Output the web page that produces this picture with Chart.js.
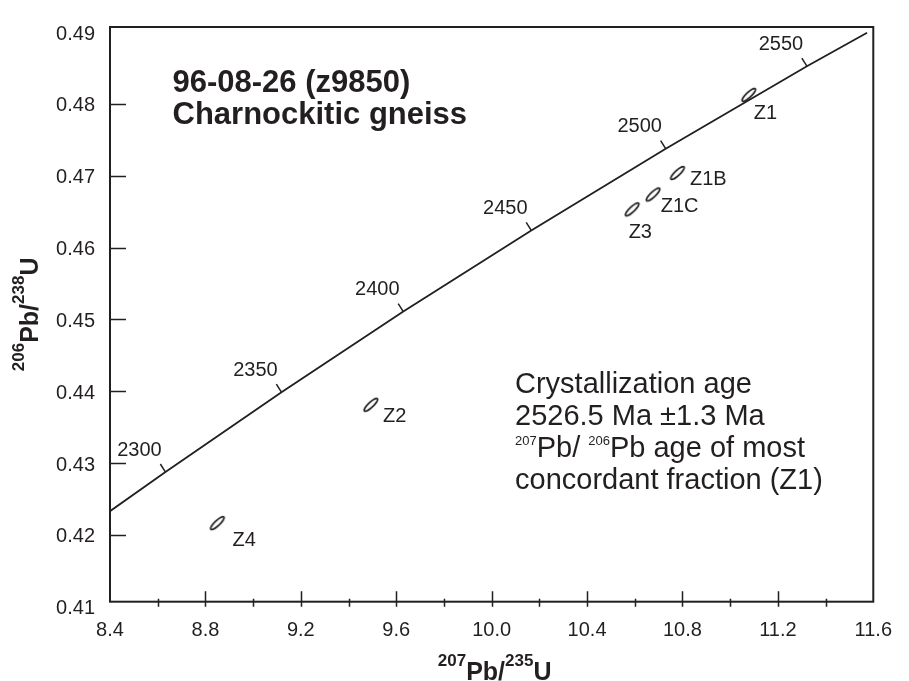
<!DOCTYPE html>
<html>
<head>
<meta charset="utf-8">
<script src="https://cdn.jsdelivr.net/npm/chart.js@4.4.0/dist/chart.umd.min.js"></script>
<style>
html,body{margin:0;padding:0;background:#ffffff;}
#wrap{width:909px;height:681px;position:relative;}
</style>
</head>
<body>
<div id="wrap"><canvas id="c" width="909" height="681"></canvas></div>
<script>
// ---------- data ----------
const xTicks = [8.4, 8.8, 9.2, 9.6, 10.0, 10.4, 10.8, 11.2, 11.6];
const xMinorTicks = [8.6, 9.0, 9.4, 9.8, 10.2, 10.6, 11.0, 11.4];
const yTicks = [0.41, 0.42, 0.43, 0.44, 0.45, 0.46, 0.47, 0.48, 0.49];

// concordia curve (ends at the frame, passes through the age marks)
const concordiaX = [8.400, 8.6325, 9.1188, 9.6296, 10.1661, 10.7297, 11.3217, 11.574];
const concordiaY = [0.4233, 0.42875, 0.43986, 0.45108, 0.46238, 0.47376, 0.48524, 0.4899];

// age marks on the concordia
const ageLabels = ['2300', '2350', '2400', '2450', '2500', '2550'];
const ageX = [8.6325, 9.1188, 9.6296, 10.1661, 10.7297, 11.3217];
const ageY = [0.42875, 0.43986, 0.45108, 0.46238, 0.47376, 0.48524];

// zircon fractions (error-ellipse centres)
const fractionNames = ['Z1', 'Z1B', 'Z1C', 'Z3', 'Z2', 'Z4'];
const fractionX = [11.078, 10.779, 10.677, 10.589, 9.4935, 8.850];
const fractionY = [0.48126, 0.47038, 0.46739, 0.46532, 0.43811, 0.42164];

const titleLines = ['96-08-26 (z9850)', 'Charnockitic gneiss'];

// ---------- layout / style (kept apart from the data) ----------
const FONT = "'Liberation Sans', Arial, Helvetica, sans-serif";
const INK = '#231f20';
const fractionLabelOffsets = [[5, 18.5], [12.5, 6.5], [7.6, 12], [-3.5, 22.7], [12.2, 12], [15.2, 17.8]];

// ellipse point style
function makeEllipse() {
  const cv = document.createElement('canvas');
  cv.width = 28; cv.height = 28;
  const g = cv.getContext('2d');
  g.translate(14, 14);
  g.rotate(-43 * Math.PI / 180);
  g.beginPath();
  g.ellipse(0, 0, 9, 2.5, 0, 0, Math.PI * 2);
  g.fillStyle = '#ffffff';
  g.fill();
  g.lineWidth = 1.7;
  g.strokeStyle = INK;
  g.stroke();
  return cv;
}

function richWidth(ctx, parts) {
  let w = 0;
  for (const p of parts) { ctx.font = p.font; w += ctx.measureText(p.t).width; }
  return w;
}
function drawRich(ctx, x, y, parts) {
  let cx = x;
  for (const p of parts) {
    ctx.font = p.font;
    ctx.fillText(p.t, cx, y - (p.rise || 0));
    cx += ctx.measureText(p.t).width;
  }
}

const decor = {
  id: 'decor',
  afterDraw(chart) {
    const ctx = chart.ctx;
    const a = chart.chartArea;
    const xs = chart.scales.x, ys = chart.scales.y;
    ctx.save();
    ctx.strokeStyle = INK;
    ctx.fillStyle = INK;
    ctx.lineCap = 'butt';

    // frame
    ctx.lineWidth = 2;
    ctx.strokeRect(a.left, a.top, a.right - a.left, a.bottom - a.top);

    // x tick marks
    ctx.lineWidth = 1.5;
    ctx.beginPath();
    xTicks.forEach(v => {
      const px = Math.round(xs.getPixelForValue(v)) + 0.5;
      if (px < a.left + 3 || px > a.right - 3) return;
      ctx.moveTo(px, a.bottom - 10.5); ctx.lineTo(px, a.bottom + 5);
    });
    xMinorTicks.forEach(v => {
      const px = Math.round(xs.getPixelForValue(v)) + 0.5;
      ctx.moveTo(px, a.bottom - 3); ctx.lineTo(px, a.bottom + 5);
    });
    ctx.stroke();

    // y tick marks (inward)
    ctx.beginPath();
    yTicks.forEach(v => {
      const py = Math.round(ys.getPixelForValue(v)) + 0.5;
      if (py < a.top + 8 || py > a.bottom - 8) return;
      ctx.moveTo(a.left, py); ctx.lineTo(a.left + 16, py);
    });
    ctx.stroke();

    // age marks on concordia
    const p0x = xs.getPixelForValue(concordiaX[0]), p0y = ys.getPixelForValue(concordiaY[0]);
    const p1x = xs.getPixelForValue(concordiaX[concordiaX.length - 1]), p1y = ys.getPixelForValue(concordiaY[concordiaY.length - 1]);
    const L = Math.hypot(p1x - p0x, p1y - p0y);
    const nx = (p1y - p0y) / L, ny = -(p1x - p0x) / L; // up-left normal
    ctx.lineWidth = 1.5;
    ctx.font = '20px ' + FONT;
    ctx.textAlign = 'center';
    ctx.textBaseline = 'middle';
    ageLabels.forEach((lab, i) => {
      const px = xs.getPixelForValue(ageX[i]), py = ys.getPixelForValue(ageY[i]);
      ctx.beginPath();
      ctx.moveTo(px, py);
      ctx.lineTo(px + nx * 9.5, py + ny * 9.5);
      ctx.stroke();
      ctx.fillText(lab, px - 26, py - 22);
    });

    // fraction labels
    ctx.textAlign = 'left';
    const meta = chart.getDatasetMeta(1);
    fractionNames.forEach((n, i) => {
      const el = meta.data[i];
      const o = fractionLabelOffsets[i];
      ctx.fillText(n, el.x + o[0], el.y + o[1]);
    });

    // sample title
    ctx.textBaseline = 'alphabetic';
    ctx.font = 'bold 31px ' + FONT;
    ctx.fillText(titleLines[0], 172.5, 92.3);
    ctx.fillText(titleLines[1], 172.5, 123.5);

    // annotation
    const big = '29px ' + FONT, small = '13px ' + FONT;
    ctx.font = big;
    ctx.fillText('Crystallization age', 515, 392.5);
    ctx.fillText('2526.5 Ma \u00b11.3 Ma', 515, 424.5);
    drawRich(ctx, 515, 456.5, [
      {t: '207', font: small, rise: 11.5},
      {t: 'Pb/ ', font: big},
      {t: '206', font: small, rise: 11.5},
      {t: 'Pb age of most', font: big}
    ]);
    ctx.font = big;
    ctx.fillText('concordant fraction (Z1)', 515, 488.5);

    // axis titles
    const tb = 'bold 25px ' + FONT, ts = 'bold 17px ' + FONT;
    const xParts = [{t: '207', font: ts, rise: 14}, {t: 'Pb/', font: tb}, {t: '235', font: ts, rise: 14}, {t: 'U', font: tb}];
    const xw = richWidth(ctx, xParts);
    drawRich(ctx, (a.left + a.right) / 2 + 3 - xw / 2, 679.5, xParts);
    const yParts = [{t: '206', font: ts, rise: 14}, {t: 'Pb/', font: tb}, {t: '238', font: ts, rise: 14}, {t: 'U', font: tb}];
    const yw = richWidth(ctx, yParts);
    ctx.translate(38.3, (a.top + a.bottom) / 2);
    ctx.rotate(-Math.PI / 2);
    drawRich(ctx, -yw / 2, 0, yParts);
    ctx.restore();
  }
};

Chart.defaults.font.family = FONT;
Chart.defaults.color = INK;

new Chart(document.getElementById('c'), {
  type: 'scatter',
  data: {
    datasets: [
      {
        label: 'Concordia',
        data: concordiaX.map((x, i) => ({x: x, y: concordiaY[i]})),
        showLine: true,
        borderColor: INK,
        borderWidth: 1.8,
        pointRadius: 0,
        tension: 0
      },
      {
        label: 'Fractions',
        data: fractionX.map((x, i) => ({x: x, y: fractionY[i]})),
        showLine: false,
        pointStyle: makeEllipse(),
        pointRadius: 6
      }
    ]
  },
  options: {
    responsive: false,
    animation: false,
    events: [],
    layout: {padding: {top: 13, right: 25, left: 0, bottom: 0}},
    plugins: {legend: {display: false}, tooltip: {enabled: false}, title: {display: false}},
    scales: {
      x: {
        type: 'linear',
        min: 8.4, max: 11.6,
        afterBuildTicks: s => { s.ticks = xTicks.map(v => ({value: v})); },
        afterFit: s => { s.height = 79.3; },
        grid: {display: false, drawTicks: false},
        border: {display: false},
        ticks: {
          font: {size: 20}, color: INK, padding: 17, maxRotation: 0, autoSkip: false,
          callback: v => Number(v).toFixed(1)
        }
      },
      y: {
        type: 'linear',
        min: 0.4107, max: 0.4907,
        afterBuildTicks: s => { s.ticks = yTicks.map(v => ({value: v})); },
        afterFit: s => { s.width = 110; },
        grid: {display: false, drawTicks: false},
        border: {display: false},
        ticks: {
          font: {size: 20}, color: INK, padding: 15, labelOffset: 2, autoSkip: false,
          callback: v => Number(v).toFixed(2)
        }
      }
    }
  },
  plugins: [decor]
});
</script>
</body>
</html>
